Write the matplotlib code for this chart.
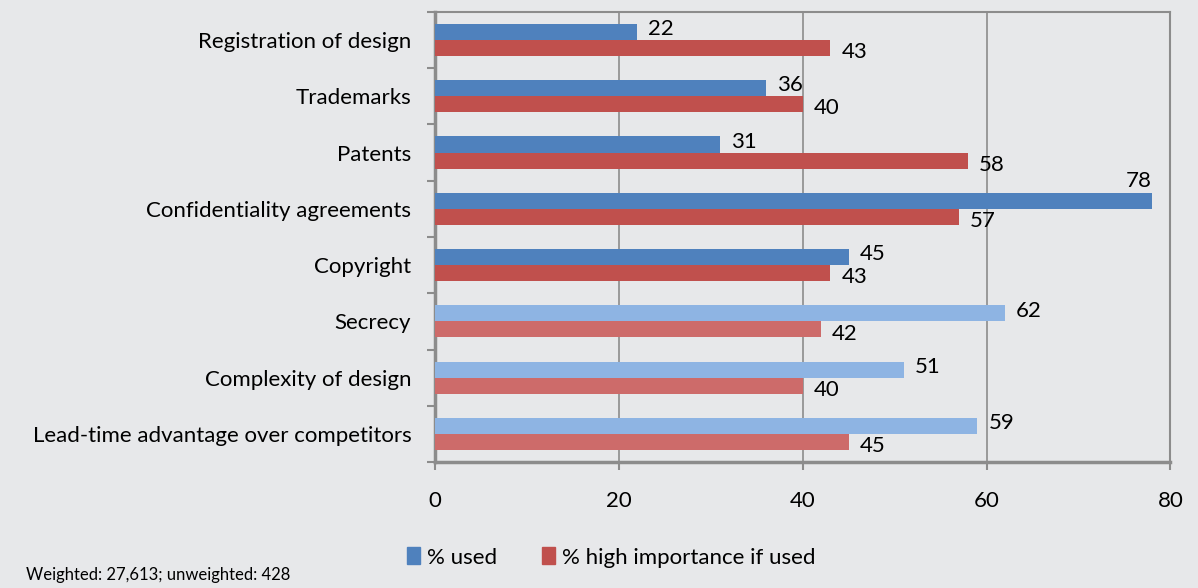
import numpy as np
import matplotlib.pyplot as plt
from matplotlib.patches import Patch

categories = ['Registration of design', 'Trademarks', 'Patents',
              'Confidentiality agreements', 'Copyright', 'Secrecy',
              'Complexity of design', 'Lead-time advantage over competitors']
used = [22, 36, 31, 78, 45, 62, 51, 59]
high_imp = [43, 40, 58, 57, 43, 42, 40, 45]
n_dark = 5  # first five categories drawn in the darker shades

plt.rcParams['font.family'] = ['Lato', 'DejaVu Sans']
bg = '#E7E8EA'
blue, blue_l = '#4F81BD', '#8EB4E3'
red, red_l = '#C0504D', '#CD6B6A'
frame = '#8C8C8C'
fs = 16

fig = plt.figure(figsize=(11.98, 5.88), dpi=100, facecolor=bg)
ax = fig.add_axes([0.363, 0.214, 0.614, 0.766], facecolor=bg)

y = np.arange(len(categories))
h = 0.285
cb = [blue if i < n_dark else blue_l for i in y]
cr = [red if i < n_dark else red_l for i in y]
ax.barh(y - h / 2, used, height=h, color=cb, zorder=3)
ax.barh(y + h / 2, high_imp, height=h, color=cr, zorder=3)

for i in y:
    if used[i] >= 75:
        ax.annotate(str(used[i]), (used[i], i - h), xytext=(0, 1),
                    textcoords='offset points', ha='right', va='bottom', fontsize=fs)
    else:
        ax.annotate(str(used[i]), (used[i], i - h / 2), xytext=(8, 2),
                    textcoords='offset points', ha='left', va='center', fontsize=fs)
    ax.annotate(str(high_imp[i]), (high_imp[i], i + h / 2), xytext=(8, -3),
                textcoords='offset points', ha='left', va='center', fontsize=fs)

ax.set_xlim(0, 80)
ax.set_ylim(len(categories) - 0.5, -0.5)
ax.set_xticks([0, 20, 40, 60, 80])
ax.tick_params(axis='x', length=6, color=frame, width=1.5, labelsize=fs, pad=15)
ax.set_yticks(y)
ax.set_yticklabels(categories, fontsize=fs)
ax.tick_params(axis='y', length=0, pad=17)
ax.set_yticks(np.arange(len(categories) + 1) - 0.5, minor=True)
ax.tick_params(axis='y', which='minor', length=6, color=frame, width=1.5)
ax.grid(axis='x', color=frame, linewidth=1.2, zorder=0)

for s in ax.spines.values():
    s.set_color(frame)
    s.set_linewidth(1.5)
ax.spines['left'].set_linewidth(2.5)
ax.spines['bottom'].set_linewidth(2.5)

handles = [Patch(color=blue, label='% used'), Patch(color=red, label='% high importance if used')]
fig.legend(handles=handles, loc='center', bbox_to_anchor=(0.51, 0.052), ncol=2,
           frameon=False, fontsize=fs, handlelength=0.6, handleheight=0.8,
           handletextpad=0.3, columnspacing=2.0)
fig.text(0.022, 0.022, 'Weighted: 27,613; unweighted: 428', fontsize=12, ha='left', va='center')

fig.savefig('out.png', dpi=100, facecolor=bg)
